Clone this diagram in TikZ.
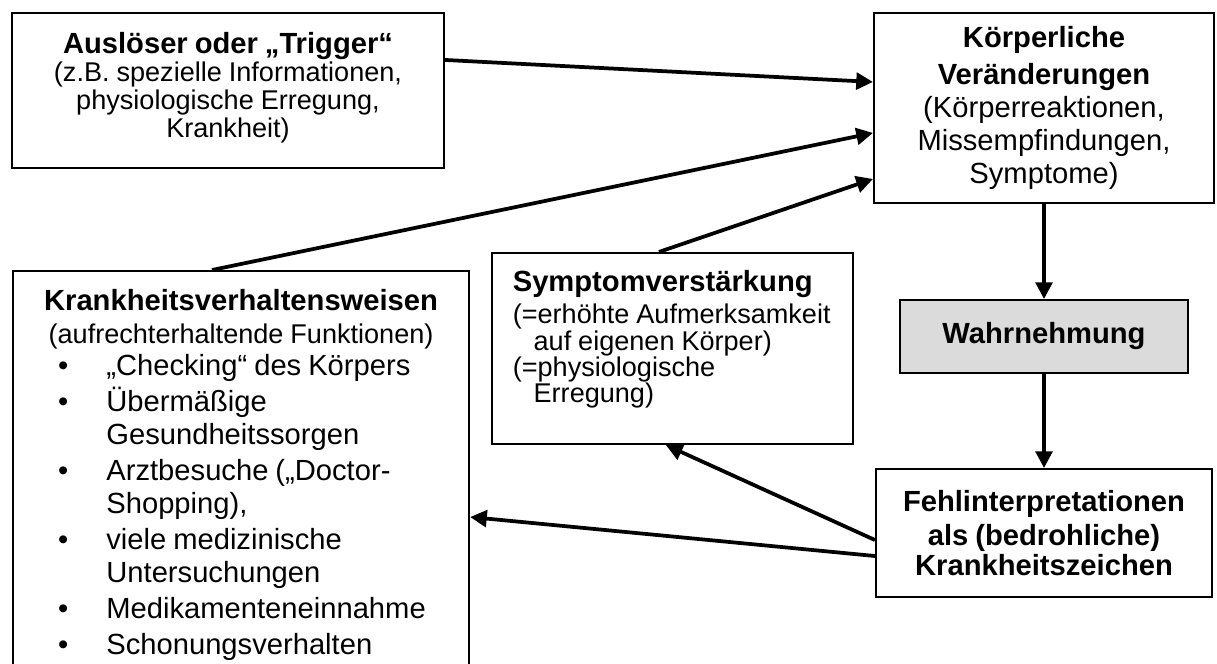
\documentclass[tikz,border=0pt]{standalone}
\usepackage{fontspec}
\setmainfont{Liberation Sans}
\usetikzlibrary{arrows.meta, calc}

% Schriftgrößen
\newcommand\titel{\fontsize{14pt}{16.3pt}\selectfont\bfseries}
\newcommand\mittel{\fontsize{14pt}{15.8pt}\selectfont}
\newcommand\klein{\fontsize{13pt}{13.4pt}\selectfont}

\tikzset{
	kasten/.style = {draw, line width = 1pt, inner xsep = 3pt, inner ysep = 0pt, align = center},
	pfeil/.style = {line width = 1.8pt, -{Triangle[length = 8pt, width = 8pt]}},
}

\begin{document}
\begin{tikzpicture}[x = 0.48pt, y = -0.48pt]

	% Rand des Bildes
	\clip (0,0) rectangle (1217,663);

	% Auslöser
	\node[kasten, minimum width = 207.4pt, minimum height = 74.4pt, text width = 201.4pt]
		(ausloeser) at (228,90.5) {
		{\titel Auslöser oder „Trigger“\par}
		{\klein (z.B. spezielle Informationen,\\ physiologische Erregung,\\ Krankheit)\par}
		\vspace{2.5pt}\nointerlineskip\hbox{}
	};

	% körperliche Veränderungen
	\node[kasten, minimum width = 163.2pt, minimum height = 91.2pt, text width = 157.2pt]
		(koerper) at (1044,108) {
		{\titel Körperliche\\[1.5pt] Veränderungen\par}
		{\mittel (Körperreaktionen,\\ Missempfindungen,\\ Symptome)\par}
	};

	% Wahrnehmung
	\node[kasten, fill = black!14, minimum width = 138.2pt, minimum height = 35pt, text width = 132.2pt]
		(wahrnehmung) at (1044,336.5) {\titel Wahrnehmung};

	% Fehlinterpretationen
	\node[kasten, minimum width = 161.3pt, minimum height = 61.4pt, text width = 155.3pt]
		(fehl) at (1044,533) {
		\titel Fehlinterpretationen\\ als (bedrohliche)\\ Krankheitszeichen
	};

	% Symptomverstärkung
	\node[kasten, align = left, inner xsep = 10pt, minimum width = 173.3pt, minimum height = 91.7pt, text width = 153.3pt]
		(symptom) at (672.5,348.5) {
		{\titel Symptomverstärkung\par}
		\vspace{2.7pt}
		{\fontsize{13pt}{12.7pt}\selectfont
		(=erhöhte~Aufmerksamkeit\\
		\hspace*{10pt}auf eigenen Körper)\\
		(=physiologische\\
		\hspace*{10pt}Erregung)\par}
		\vspace{8.7pt}\nointerlineskip\hbox{}
	};

	% Krankheitsverhaltensweisen
	\node[kasten, align = left, anchor = north west, inner ysep = 9pt, minimum width = 218.9pt, text width = 212.9pt]
		(verhalten) at (12,270) {
		{\centering\titel Krankheitsverhaltensweisen\par}
		{\centering\fontsize{13pt}{15.4pt}\selectfont (aufrechterhaltende Funktionen)\par}
		\mittel
		\begin{list}{\textbullet}{%
			\setlength{\leftmargin}{41.8pt}\setlength{\labelsep}{18.2pt}%
			\setlength{\labelwidth}{5pt}\setlength{\itemsep}{1.5pt}%
			\setlength{\topsep}{0pt}\setlength{\parsep}{0pt}%
			\setlength{\partopsep}{0pt}\setlength{\itemindent}{0pt}}
			\item „Checking“ des Körpers
			\item Übermäßige\newline Gesundheitssorgen
			\item Arztbesuche („Doctor-\newline Shopping),
			\item viele medizinische\newline Untersuchungen
			\item Medikamenteneinnahme
			\item Schonungsverhalten
		\end{list}
	};

	% Pfeile zu den körperlichen Veränderungen
	\draw[pfeil] ($(ausloeser.north east)+(0,48)$) -- ($(koerper.north west)+(0,70)$);
	\draw[pfeil] ($(verhalten.north west)+(200,0)$) -- ($(koerper.north west)+(0,121)$);
	\draw[pfeil] ($(symptom.north west)+(168,0)$) -- ($(koerper.north west)+(0,167)$);

	% senkrechte Kette
	\draw[pfeil] (koerper) -- (wahrnehmung);
	\draw[pfeil] (wahrnehmung) -- (fehl);

	% Rückwirkungen
	\draw[pfeil] ($(fehl.north west)+(0,72)$) -- ($(symptom.south west)+(175,0)$);
	\draw[pfeil] ($(fehl.north west)+(0,88)$) -- ($(verhalten.north east)+(0,247)$);

\end{tikzpicture}
\end{document}
